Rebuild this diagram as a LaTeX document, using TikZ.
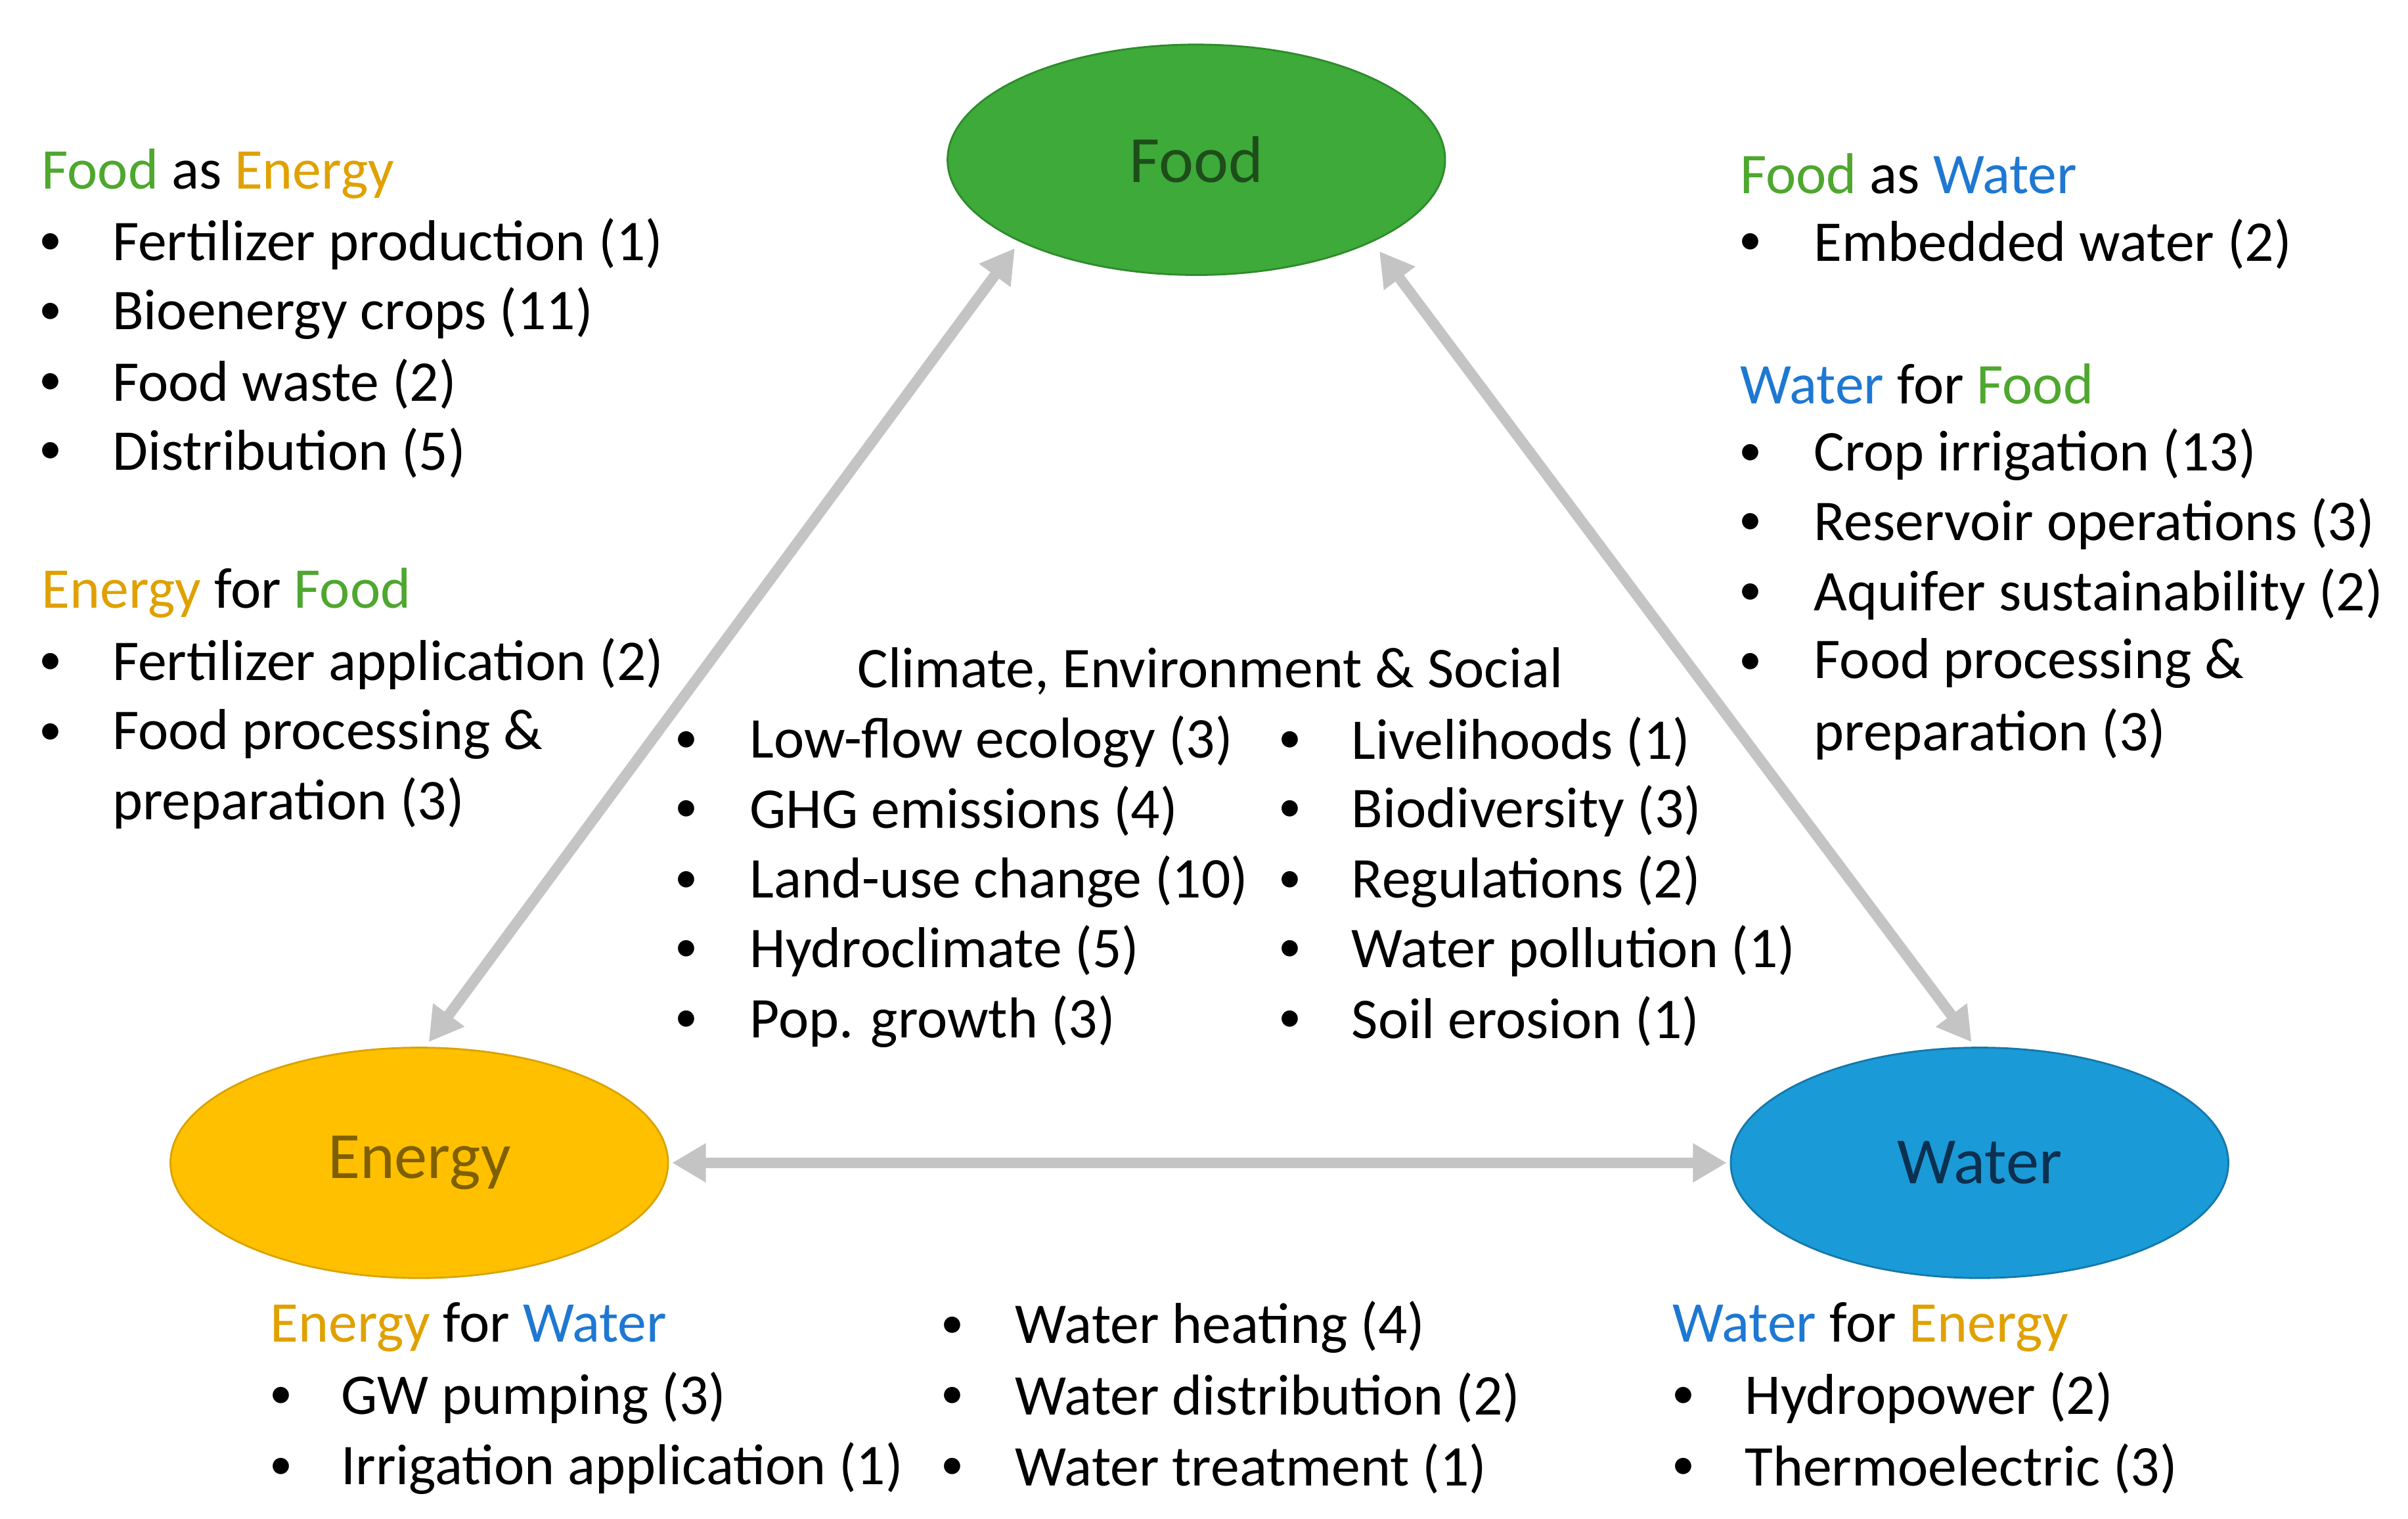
\documentclass[tikz,border=0pt]{standalone}
\usepackage{fontspec}
\setmainfont{Carlito}
\usetikzlibrary{arrows.meta,shapes.geometric}
\definecolor{cg}{HTML}{4EA72E}
\definecolor{co}{HTML}{E0A100}
\definecolor{cb}{HTML}{1E78D2}
\definecolor{arr}{HTML}{C4C4C4}
\definecolor{ff}{HTML}{3DAA3A}\definecolor{fd}{HTML}{2E8B2B}\definecolor{ft}{HTML}{1E4D1A}
\definecolor{ef}{HTML}{FFC000}\definecolor{ed}{HTML}{D9A300}\definecolor{et}{HTML}{7F6000}
\definecolor{wf}{HTML}{1B9AD8}\definecolor{wd}{HTML}{1478A8}\definecolor{wt}{HTML}{0B3050}
\begin{document}
\begin{tikzpicture}[x=1pt,y=-1pt,
  every node/.style={font=\fontsize{37.5}{45.5}\selectfont,inner sep=0pt},
  t/.style={anchor=west},
  b/.style={anchor=center,font=\fontsize{30}{30}\selectfont},
  el/.style={ellipse,minimum width=324pt,minimum height=150pt,line width=1.2pt,font=\fontsize{43}{45}\selectfont},
  con/.style={arr,line width=7pt,{Triangle[length=22pt,width=24pt]}-{Triangle[length=22pt,width=24pt]},shorten <=2pt,shorten >=2pt}]
\useasboundingbox (0,0) rectangle (1568,988.5);
\node[el,fill=ff,draw=fd,text=ft] (food) at (779,104) {Food};
\node[el,fill=ef,draw=ed,text=et] (energy) at (273,757) {Energy};
\node[el,fill=wf,draw=wd,text=wt] (water) at (1289,757) {Water};
\coordinate (fe1) at (662,160); \coordinate (fe2) at (278,680);
\coordinate (fw1) at (897,162); \coordinate (fw2) at (1285,680);
\draw[con] (fe1) -- (fe2);
\draw[con] (fw1) -- (fw2);
\draw[con] (energy.east) -- (water.west);
% left
\node[t] (h1) at (27,113) {\textcolor{cg}{Food} as \textcolor{co}{Energy}};
\foreach \y/\s [count=\i] in {159/Fertilizer production (1),204/Bioenergy crops (11),250/Food waste (2),295/Distribution (5)}{
  \node[b] (lb\i) at (33,\y) {•}; \node[t] (lt\i) at (73,\y) {\s};}
\node[t] (h2) at (27,386) {\textcolor{co}{Energy} for \textcolor{cg}{Food}};
\node[b] (lb5) at (33,432) {•}; \node[t] (lt5) at (73,432) {Fertilizer application (2)};
\node[b] (lb6) at (33,478) {•}; \node[t] (lt6) at (73,478) {Food processing \&};
\node[t] (lt7) at (73,523) {preparation (3)};
% right
\node[t] (h3) at (1133,113) {\textcolor{cg}{Food} as \textcolor{cb}{Water}};
\node[b] (rb1) at (1140,159) {•}; \node[t] (rt1) at (1181,159) {Embedded water (2)};
\node[t] (h4) at (1133,250) {\textcolor{cb}{Water} for \textcolor{cg}{Food}};
\foreach \y/\s [count=\i] in {296/Crop irrigation (13),341/Reservoir operations (3),387/Aquifer sustainability (2),432/Food processing \&}{
  \node[b] (rb\i x) at (1140,\y) {•}; \node[t] (rt\i x) at (1181,\y) {\s};}
\node[t] (rt9) at (1181,478) {preparation (3)};
% center
\node[b,font=\fontsize{37.5}{45.5}\selectfont] (ch) at (788,437) {Climate, Environment \& Social};
\foreach \y/\s/\u [count=\i] in {483/Low-flow ecology (3)/Livelihoods (1),528/GHG emissions (4)/Biodiversity (3),574/Land-use change (10)/Regulations (2),619/Hydroclimate (5)/Water pollution (1),665/Pop. growth (3)/Soil erosion (1)}{
  \node[b] (cb\i) at (447,\y) {•}; \node[t] (ct\i) at (488,\y) {\s};
  \node[b] (db\i) at (840,\y) {•}; \node[t] (dt\i) at (880,\y) {\u};}
% bottom
\node[t] (h5) at (176,864) {\textcolor{co}{Energy} for \textcolor{cb}{Water}};
\node[b] (eb1) at (183,910) {•}; \node[t] (et1) at (222,910) {GW pumping (3)};
\node[b] (eb2) at (183,956) {•}; \node[t] (et2) at (222,956) {Irrigation application (1)};
\foreach \y/\s [count=\i] in {864/Water heating (4),910/Water distribution (2),956/Water treatment (1)}{
  \node[b] (mb\i) at (620,\y) {•}; \node[t] (mt\i) at (661,\y) {\s};}
\node[t] (h6) at (1089,864) {\textcolor{cb}{Water} for \textcolor{co}{Energy}};
\node[b] (wb1) at (1096,910) {•}; \node[t] (wt1) at (1136,910) {Hydropower (2)};
\node[b] (wb2) at (1096,956) {•}; \node[t] (wt2) at (1136,956) {Thermoelectric (3)};
\end{tikzpicture}
\end{document}
